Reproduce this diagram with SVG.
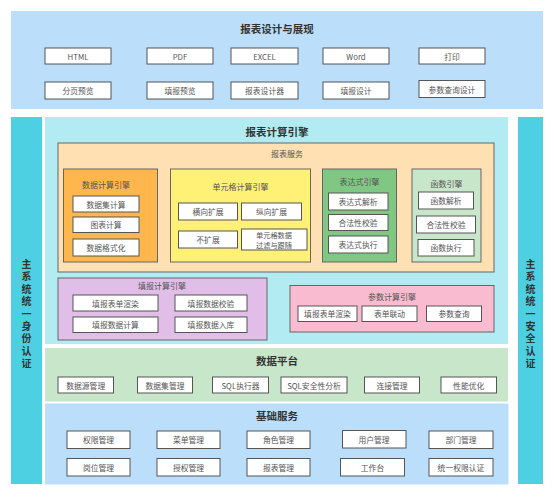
<svg xmlns="http://www.w3.org/2000/svg" width="554" height="500" viewBox="0 0 554 500">
<style>
text{font-family:"Noto Sans CJK SC","Liberation Sans",sans-serif;text-anchor:middle;dominant-baseline:central}
.t{font-size:10.5px;font-weight:bold;fill:#333}
.st{font-size:8px;fill:#555}
.bt{font-size:7.8px;fill:#555}
.b{fill:#fff;stroke:#555;stroke-width:1}
.e{stroke:#666;stroke-width:1}
.side{font-size:10px;font-weight:bold;fill:#333;writing-mode:vertical-rl;letter-spacing:2.4px}
</style>
<rect width="554" height="500" fill="#fff"/>
<g id="display">
<rect x="11" y="11" width="532" height="98" fill="#bbdefb"/>
<text class="t" x="277" y="28">报表设计与展现</text>
<rect class="b" x="45" y="48" width="66" height="16"/><text class="bt" x="78" y="56">HTML</text>
<rect class="b" x="147" y="48" width="66" height="16"/><text class="bt" x="180" y="56">PDF</text>
<rect class="b" x="231" y="48" width="67" height="16"/><text class="bt" x="264.5" y="56">EXCEL</text>
<rect class="b" x="323" y="48" width="66" height="16"/><text class="bt" x="356" y="56">Word</text>
<rect class="b" x="419" y="48" width="66" height="16"/><text class="bt" x="452" y="56">打印</text>
<rect class="b" x="45" y="82" width="66" height="17"/><text class="bt" x="78" y="90.5">分页预览</text>
<rect class="b" x="147" y="82" width="66" height="17"/><text class="bt" x="180" y="90.5">填报预览</text>
<rect class="b" x="231" y="82" width="67" height="17"/><text class="bt" x="264.5" y="90.5">报表设计器</text>
<rect class="b" x="323" y="82" width="66" height="17"/><text class="bt" x="356" y="90.5">填报设计</text>
<rect class="b" x="419" y="80.5" width="66" height="17"/><text class="bt" x="452" y="89">参数查询设计</text>
</g>
<g id="left-auth">
<rect x="11" y="117" width="31" height="367" fill="#4dd0e1"/>
<text class="side" x="26.5" y="315">主系统统一身份认证</text>
</g>
<g id="right-auth">
<rect x="518" y="117" width="25" height="367" fill="#4dd0e1"/>
<text class="side" x="530.5" y="315">主系统统一安全认证</text>
</g>
<g id="calc-engine">
<rect x="45" y="117" width="463" height="227" fill="#b2ebf2"/>
<text class="t" x="277" y="131.5">报表计算引擎</text>
</g>
<g id="report-service">
<rect class="e" x="58" y="143" width="436" height="129" fill="#ffe0b2"/>
<text class="st" x="287" y="153.5">报表服务</text>
</g>
<g id="data-calc">
<rect class="e" x="63.5" y="169" width="94" height="93" fill="#ffb74d"/>
<text class="st" x="106" y="184">数据计算引擎</text>
<rect class="b" x="73" y="196" width="66" height="16"/><text class="bt" x="106" y="204">数据集计算</text>
<rect class="b" x="73" y="217" width="66" height="15.5"/><text class="bt" x="106" y="224.7">图表计算</text>
<rect class="b" x="73" y="239" width="66" height="17"/><text class="bt" x="106" y="247.5">数据格式化</text>
</g>
<g id="cell-calc">
<rect class="e" x="170.5" y="169" width="140" height="93" fill="#fff176"/>
<text class="st" x="240.5" y="186">单元格计算引擎</text>
<rect class="b" x="178.5" y="203" width="59" height="17"/><text class="bt" x="208" y="211.5">横向扩展</text>
<rect class="b" x="241.5" y="203" width="60" height="17"/><text class="bt" x="271.5" y="211.5">纵向扩展</text>
<rect class="b" x="178.5" y="231" width="59" height="17"/><text class="bt" x="208" y="239.5">不扩展</text>
<rect class="b" x="241.5" y="229" width="65.5" height="21"/><text class="bt" style="font-size:7.2px" x="274" y="234.5">单元格数据<tspan x="274" dy="10.2">过滤与跟随</tspan></text>
</g>
<g id="expr-engine">
<rect class="e" x="322.5" y="169" width="74" height="93" fill="#81c784"/>
<text class="st" x="359.5" y="181">表达式引擎</text>
<rect class="b" x="328.5" y="193" width="59.5" height="17"/><text class="bt" x="358" y="201.5">表达式解析</text>
<rect class="b" x="328.5" y="214.5" width="59.5" height="16"/><text class="bt" x="358" y="222.5">合法性校验</text>
<rect class="b" x="328.5" y="236" width="59.5" height="17"/><text class="bt" x="358" y="244.5">表达式执行</text>
</g>
<g id="func-engine">
<rect class="e" x="412" y="169" width="69" height="93" fill="#c8e6c9"/>
<text class="st" x="446.5" y="183">函数引擎</text>
<rect class="b" x="418.5" y="192" width="55" height="17"/><text class="bt" x="446" y="200.5">函数解析</text>
<rect class="b" x="416.5" y="216" width="59" height="17"/><text class="bt" x="446" y="224.5">合法性校验</text>
<rect class="b" x="418" y="239.5" width="56" height="16.5"/><text class="bt" x="446" y="247.7">函数执行</text>
</g>
<g id="fill-calc">
<rect class="e" x="58" y="278" width="209" height="62" fill="#e1bee7"/>
<text class="st" x="162" y="285">填报计算引擎</text>
<rect class="b" x="73" y="295" width="85" height="16"/><text class="bt" x="115.5" y="303">填报表单渲染</text>
<rect class="b" x="175" y="295" width="72" height="16"/><text class="bt" x="211" y="303">填报数据校验</text>
<rect class="b" x="73" y="317" width="85" height="15.5"/><text class="bt" x="115.5" y="324.7">填报数据计算</text>
<rect class="b" x="175" y="317" width="72" height="15.5"/><text class="bt" x="211" y="324.7">填报数据入库</text>
</g>
<g id="param-calc">
<rect class="e" x="290" y="285.5" width="204" height="46.5" fill="#f8bbd0"/>
<text class="st" x="392" y="296.5">参数计算引擎</text>
<rect class="b" x="298" y="306" width="59" height="15.5"/><text class="bt" x="327.5" y="313.7">填报表单渲染</text>
<rect class="b" x="362" y="306" width="55" height="15.5"/><text class="bt" x="389.5" y="313.7">表单联动</text>
<rect class="b" x="426.5" y="306" width="55" height="15.5"/><text class="bt" x="454" y="313.7">参数查询</text>
</g>
<g id="data-platform">
<rect x="45" y="348" width="463" height="53.5" fill="#c8e6c9"/>
<text class="t" x="277" y="360">数据平台</text>
<rect class="b" x="58" y="377" width="55.5" height="16"/><text class="bt" x="85.7" y="385">数据源管理</text>
<rect class="b" x="137.5" y="377" width="55" height="16"/><text class="bt" x="165" y="385">数据集管理</text>
<rect class="b" x="212.5" y="377" width="56" height="16"/><text class="bt" x="240.5" y="385">SQL执行器</text>
<rect class="b" x="281" y="377" width="66" height="16"/><text class="bt" x="314" y="385">SQL安全性分析</text>
<rect class="b" x="364.5" y="377" width="55" height="16"/><text class="bt" x="392" y="385">连接管理</text>
<rect class="b" x="441" y="377" width="55.5" height="16"/><text class="bt" x="468.7" y="385">性能优化</text>
</g>
<g id="base-service">
<rect x="45" y="403.5" width="463.5" height="81" fill="#bbdefb"/>
<text class="t" x="277" y="415">基础服务</text>
<rect class="b" x="67" y="431" width="63" height="17.5"/><text class="bt" x="98.5" y="439.7">权限管理</text>
<rect class="b" x="157" y="431" width="63" height="17.5"/><text class="bt" x="188.5" y="439.7">菜单管理</text>
<rect class="b" x="247" y="431" width="63" height="17.5"/><text class="bt" x="278.5" y="439.7">角色管理</text>
<rect class="b" x="342.5" y="430.5" width="63.5" height="17.5"/><text class="bt" x="374" y="439.2">用户管理</text>
<rect class="b" x="429" y="431" width="64" height="17.5"/><text class="bt" x="461" y="439.7">部门管理</text>
<rect class="b" x="67" y="458.5" width="63" height="17.5"/><text class="bt" x="98.5" y="467.2">岗位管理</text>
<rect class="b" x="157" y="458.5" width="63" height="17.5"/><text class="bt" x="188.5" y="467.2">授权管理</text>
<rect class="b" x="247" y="458.5" width="63" height="17.5"/><text class="bt" x="278.5" y="467.2">报表管理</text>
<rect class="b" x="340.5" y="458.5" width="64" height="17.5"/><text class="bt" x="372.5" y="467.2">工作台</text>
<rect class="b" x="429" y="458.5" width="64" height="17.5"/><text class="bt" x="461" y="467.2">统一权限认证</text>
</g>
<g id="connectors"></g>
</svg>
